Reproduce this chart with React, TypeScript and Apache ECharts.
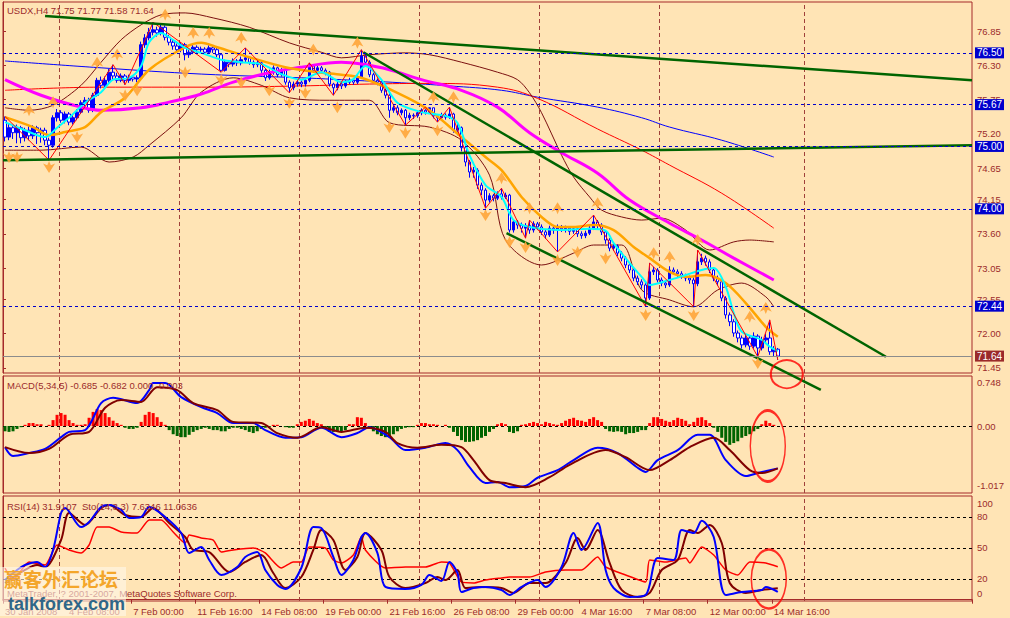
import React, { useEffect, useRef } from 'react';
import * as echarts from 'echarts';

const SLOTS = 242;
const xTickLabels = ['30 Jan 2008', '4 Feb 08:00', '7 Feb 00:00', '11 Feb 16:00', '14 Feb 08:00', '19 Feb 00:00', '21 Feb 16:00', '26 Feb 08:00', '29 Feb 00:00', '4 Mar 16:00', '7 Mar 08:00', '12 Mar 00:00', '14 Mar 16:00'];
const priceTicks = [76.85, 76.30, 75.75, 75.20, 74.65, 74.15, 73.60, 73.05, 72.55, 72.00, 71.45];
const macdTicks = [0.748, 0, -1.017];
const rsiLabelPos = [93.5, 80, 50, 20, 6];
const rsiLabelText = ['100', '80', '50', '20', '0'];
const priceLevels = [76.50, 75.67, 75.00, 74.00, 72.44];
const bidPrice = 71.64;
const weekSeparators = [14, 44, 74, 104, 134, 164, 200];

// [open, close, low, high]
const candles = [
[75.42,75.15,75.08,75.48],[75.15,75.30,75.10,75.36],[75.30,75.22,75.12,75.34],[75.22,75.30,75.05,75.35],[75.30,75.14,75.05,75.33],
[75.14,75.26,75.08,75.30],[75.26,75.17,75.10,75.32],[75.17,75.30,75.12,75.34],[75.30,75.22,75.04,75.33],[75.22,75.26,75.06,75.30],
[75.26,75.10,75.02,75.30],[75.10,75.02,74.78,75.14],[75.02,75.46,74.98,75.50],[75.46,75.54,75.40,75.60],[75.54,75.42,75.38,75.58],
[75.42,75.52,75.37,75.56],[75.52,75.39,75.34,75.55],[75.39,75.46,75.35,75.50],[75.46,75.55,75.42,75.60],[75.55,75.70,75.52,75.74],
[75.70,75.74,75.64,75.79],[75.74,75.58,75.54,75.78],[75.58,75.82,75.55,75.86],[75.82,76.06,75.80,76.10],[76.06,75.98,75.93,76.12],
[75.98,76.06,75.95,76.12],[76.06,76.19,76.02,76.24],[76.19,76.13,76.08,76.31],[76.13,76.06,76.02,76.18],[76.06,76.13,76.03,76.17],
[76.13,76.06,75.99,76.16],[76.06,76.11,76.02,76.15],[76.11,76.08,76.04,76.14],[76.08,76.10,76.03,76.14],[76.10,76.63,76.07,76.68],
[76.63,76.74,76.58,76.80],[76.74,76.83,76.70,76.90],[76.83,76.87,76.78,76.99],[76.87,76.82,76.76,76.92],[76.82,76.91,76.78,76.97],
[76.91,76.75,76.70,76.94],[76.75,76.67,76.62,76.79],[76.67,76.61,76.55,76.71],[76.61,76.55,76.50,76.65],[76.55,76.63,76.51,76.67],
[76.63,76.47,76.38,76.66],[76.47,76.51,76.42,76.56],[76.51,76.59,76.48,76.63],[76.59,76.55,76.50,76.62],[76.55,76.56,76.51,76.60],
[76.56,76.51,76.47,76.59],[76.51,76.58,76.48,76.62],[76.58,76.55,76.50,76.61],[76.55,76.47,76.43,76.58],[76.47,76.22,76.19,76.49],
[76.22,76.35,76.20,76.39],[76.35,76.32,76.27,76.38],[76.32,76.37,76.28,76.41],[76.37,76.34,76.29,76.40],[76.34,76.39,76.30,76.44],
[76.39,76.42,76.35,76.58],[76.42,76.35,76.31,76.45],[76.35,76.31,76.26,76.38],[76.31,76.34,76.27,76.38],[76.34,76.22,76.18,76.37],
[76.22,76.10,76.05,76.25],[76.10,76.19,76.07,76.23],[76.19,76.26,76.15,76.30],[76.26,76.15,76.11,76.28],[76.15,76.22,76.12,76.26],
[76.22,76.03,75.99,76.25],[76.03,75.94,75.86,76.06],[75.94,76.00,75.90,76.04],[76.00,76.03,75.96,76.07],[76.03,76.00,75.95,76.06],
[76.00,76.06,75.96,76.10],[76.06,76.29,76.03,76.34],[76.29,76.22,76.18,76.31],[76.22,76.26,76.19,76.29],[76.26,76.22,76.18,76.29],
[76.22,76.19,76.14,76.25],[76.19,76.00,75.96,76.21],[76.00,75.94,75.82,76.02],[75.94,76.00,75.90,76.04],[76.00,75.97,75.92,76.03],
[75.97,76.03,75.94,76.06],[76.03,76.06,76.00,76.10],[76.06,76.03,75.99,76.09],[76.03,76.10,76.00,76.14],[76.10,76.45,76.08,76.55],
[76.45,76.35,76.30,76.50],[76.35,76.15,76.11,76.38],[76.15,76.06,76.02,76.18],[76.06,76.03,75.98,76.09],[76.03,75.90,75.86,76.06],
[75.90,75.82,75.77,75.93],[75.82,75.58,75.46,75.85],[75.58,75.62,75.54,75.66],[75.62,75.54,75.50,75.66],[75.54,75.58,75.50,75.61],
[75.58,75.46,75.34,75.60],[75.46,75.50,75.42,75.54],[75.50,75.49,75.44,75.53],[75.49,75.54,75.46,75.58],[75.54,75.58,75.50,75.61],
[75.58,75.55,75.51,75.63],[75.55,75.62,75.52,75.62],[75.62,75.49,75.45,75.62],[75.49,75.46,75.39,75.52],[75.46,75.50,75.43,75.54],
[75.50,75.47,75.43,75.53],[75.47,75.52,75.44,75.63],[75.52,75.26,75.22,75.54],[75.26,75.30,75.18,75.36],[75.30,74.98,74.92,75.32],
[74.98,74.75,74.68,75.01],[74.75,74.59,74.50,74.78],[74.59,74.62,74.50,74.67],[74.62,74.38,74.32,74.65],[74.38,74.30,74.22,74.42],
[74.30,74.14,74.01,74.33],[74.14,74.21,74.10,74.25],[74.21,74.17,74.12,74.24],[74.17,74.24,74.14,74.28],[74.24,74.19,74.15,74.33],
[74.19,74.22,74.16,74.26],[74.22,73.66,73.62,74.24],[73.66,73.79,73.62,73.83],[73.79,73.74,73.68,73.82],[73.74,73.69,73.62,73.78],
[73.69,73.73,73.53,73.77],[73.73,73.66,73.60,73.82],[73.66,73.76,73.62,73.80],[73.76,73.71,73.66,73.79],[73.71,73.63,73.58,73.75],
[73.63,73.58,73.52,73.67],[73.58,73.69,73.55,73.73],[73.69,73.66,73.60,73.72],[73.66,73.71,73.31,73.75],[73.71,73.68,73.63,73.74],
[73.68,73.69,73.62,73.73],[73.69,73.64,73.58,73.72],[73.64,73.68,73.60,73.72],[73.68,73.60,73.55,73.71],[73.60,73.57,73.52,73.64],
[73.57,73.61,73.53,73.65],[73.61,73.69,73.58,73.73],[73.69,73.79,73.66,73.90],[73.79,73.74,73.68,73.82],[73.74,73.63,73.58,73.77],
[73.63,73.50,73.44,73.66],[73.50,73.37,73.32,73.53],[73.37,73.40,73.33,73.45],[73.40,73.29,73.24,73.43],[73.29,73.21,73.16,73.32],
[73.21,73.10,73.05,73.24],[73.10,73.02,72.97,73.13],[73.02,72.89,72.84,73.05],[72.89,72.83,72.78,72.93],[72.83,72.78,72.72,72.87],
[72.78,72.57,72.43,72.81],[72.57,72.99,72.54,73.13],[72.99,73.02,72.94,73.07],[73.02,72.86,72.82,73.05],[72.86,72.81,72.76,72.90],
[72.81,72.78,72.73,72.85],[72.78,73.02,72.75,73.08],[73.02,72.99,72.94,73.06],[72.99,72.96,72.91,73.03],[72.96,72.92,72.88,73.00],
[72.92,72.89,72.84,72.96],[72.89,72.86,72.80,72.93],[72.86,72.80,72.43,72.90],[72.80,73.15,72.76,73.34],[73.15,73.21,73.10,73.28],
[73.21,73.15,73.09,73.25],[73.15,73.02,72.97,73.19],[73.02,72.89,72.84,73.06],[72.89,72.83,72.77,72.93],[72.83,72.57,72.52,72.86],
[72.57,72.30,72.24,72.60],[72.30,72.19,72.12,72.34],[72.19,72.01,71.95,72.23],[72.01,71.93,71.86,72.05],[71.93,71.82,71.76,71.97],
[71.82,71.93,71.78,71.98],[71.93,71.80,71.74,71.97],[71.80,71.96,71.76,72.02],[71.96,71.77,71.63,71.99],[71.77,71.90,71.73,71.95],
[71.90,71.93,71.84,72.00],[71.93,71.71,71.66,72.22],[71.71,71.75,71.64,71.80],[71.75,71.64,71.58,71.77]
];

// overlays: [bar index, price]
const cyanMA = [[0,75.39],[5,75.26],[10,75.15],[13,75.30],[16,75.46],[20,75.70],[24,75.87],[27,76.07],[31,76.10],[34,76.29],[36,76.67],[39,76.82],[41,76.75],[45,76.58],[49,76.50],[54,76.39],[59,76.35],[64,76.32],[69,76.16],[74,76.07],[79,76.19],[84,76.03],[87,76.08],[90,76.29],[94,76.07],[98,75.70],[104,75.55],[110,75.49],[113,75.38],[116,74.86],[120,74.38],[124,74.19],[127,73.82],[131,73.71],[138,73.66],[146,73.68],[150,73.65],[152,73.45],[156,73.13],[159,72.91],[161,72.78],[166,72.86],[170,72.94],[174,73.02],[177,73.05],[180,72.75],[182,72.33],[184,72.03],[189,71.90],[191,71.79],[193,71.72]];
const orangeMA = [[0,75.47],[7,75.31],[11,75.18],[15,75.23],[20,75.31],[24,75.55],[30,75.78],[36,76.23],[45,76.59],[49,76.66],[53,76.59],[61,76.43],[70,76.27],[78,76.19],[84,76.15],[89,76.10],[98,75.86],[106,75.58],[114,75.15],[120,74.83],[124,74.62],[129,74.19],[134,73.87],[138,73.71],[142,73.71],[147,73.74],[152,73.66],[157,73.39],[161,73.21],[166,72.99],[170,72.91],[175,72.94],[180,72.81],[185,72.49],[190,72.11],[193,71.95]];
const magentaMA = [[0,76.07],[9,75.82],[19,75.63],[24,75.58],[34,75.62],[41,75.71],[49,75.84],[57,76.03],[66,76.18],[74,76.27],[84,76.35],[89,76.32],[96,76.23],[104,76.07],[114,75.90],[123,75.63],[131,75.22],[139,74.90],[148,74.57],[156,74.14],[166,73.77],[174,73.50],[182,73.21],[192,72.86]];
const blueMA = [[0,76.37],[24,76.26],[49,76.16],[74,76.10],[84,76.07],[99,76.02],[111,75.97],[124,75.90],[133,75.79],[148,75.63],[159,75.46],[166,75.31],[179,75.10],[192,74.83]];
const redMA = [[0,75.90],[24,75.95],[49,75.95],[74,75.97],[91,76.00],[106,76.01],[123,75.95],[133,75.77],[148,75.28],[159,74.94],[166,74.70],[179,74.25],[192,73.69]];
const upperBand = [[0,75.62],[6,75.58],[12,75.66],[19,75.98],[24,76.35],[29,76.71],[34,76.95],[39,77.11],[45,77.14],[52,77.06],[61,76.91],[71,76.66],[79,76.51],[84,76.42],[91,76.47],[100,76.50],[106,76.47],[114,76.35],[123,76.19],[128,76.07],[131,75.86],[134,75.54],[139,74.86],[142,74.51],[146,74.19],[149,73.98],[154,73.87],[159,73.82],[164,73.85],[170,73.66],[176,73.34],[182,73.47],[186,73.50],[192,73.47]];
const lowerBand = [[0,74.94],[9,74.94],[19,74.99],[26,74.75],[32,74.83],[36,75.02],[44,75.46],[49,75.87],[57,76.10],[64,75.98],[71,75.78],[81,75.74],[91,75.74],[96,75.38],[106,75.31],[114,75.10],[121,74.54],[125,73.50],[134,73.10],[142,73.29],[147,73.42],[154,73.42],[159,72.70],[166,72.54],[172,72.43],[178,72.70],[184,72.81],[190,72.59],[192,72.43]];
const zigzag = [[0,75.48],[11,74.78],[27,76.31],[30,75.99],[37,76.99],[54,76.19],[60,76.58],[71,75.86],[76,76.34],[82,75.82],[89,76.55],[100,75.34],[105,75.63],[108,75.39],[111,75.63],[120,74.01],[124,74.33],[130,73.53],[131,73.82],[138,73.31],[147,73.90],[160,72.43],[161,73.13],[172,72.43],[173,73.34],[188,71.63],[191,72.22],[193,71.58]];
const fractalUp = [[6,75.58],[12,75.71],[23,76.34],[28,76.47],[40,77.11],[47,76.82],[51,76.82],[59,76.74],[77,76.55],[88,76.66],[107,75.79],[112,75.79],[124,74.49],[131,74.01],[138,74.01],[148,74.09],[162,73.29],[166,73.23],[173,73.50],[186,72.27],[190,72.41]];
const fractalDown = [[1,74.83],[3,74.83],[11,74.67],[18,75.15],[30,75.82],[33,75.90],[45,76.19],[54,76.07],[59,76.03],[66,75.90],[71,75.70],[75,75.86],[83,75.63],[96,75.31],[100,75.22],[108,75.26],[120,73.90],[126,73.47],[130,73.39],[138,73.18],[143,73.31],[150,73.21],[160,72.30],[172,72.30],[188,71.53]];
// trend lines: [slot position, price]
const trendLines = [
  [[10.5, 77.09], [242, 76.06]],
  [[0, 74.78], [242, 75.02]],
  [[90, 76.51], [220.5, 71.63]],
  [[125.75, 73.61], [204.25, 71.10]],
];

const macdHist = [-0.09,-0.10,-0.09,-0.05,-0.02,0.02,0.05,0.05,0.03,0.03,0,0.02,0.10,0.19,0.22,0.19,0.10,0.05,0.02,0.02,
0.03,0.14,0.24,0.29,0.27,0.22,0.15,0.09,0.05,0.02,-0.03,-0.05,-0.05,-0.03,0.07,0.19,0.24,0.22,0.15,0.07,
0.02,-0.07,-0.14,-0.17,-0.19,-0.19,-0.15,-0.10,-0.07,-0.05,-0.03,-0.05,-0.07,-0.07,-0.09,-0.09,-0.05,-0.03,-0.03,-0.05,
-0.07,-0.10,-0.12,-0.09,-0.05,-0.03,-0.02,0.02,0.02,0,-0.02,-0.03,-0.03,0.03,0.07,0.09,0.12,0.09,0.05,0.03,
-0.05,-0.10,-0.10,-0.09,-0.09,-0.07,0.03,0.03,0.15,0.14,0.05,-0.03,-0.09,-0.14,-0.17,-0.19,-0.17,-0.14,-0.09,-0.05,
-0.03,-0.02,-0.02,0.02,0.05,0.05,0.03,0.03,0.02,0,0.02,-0.03,-0.10,-0.17,-0.24,-0.27,-0.27,-0.26,-0.24,-0.20,
-0.17,-0.10,-0.05,0.03,0.05,0.03,-0.10,-0.12,-0.09,0.02,0.03,0.05,0.07,0.05,0.03,0.07,0.05,0.03,0.02,0.05,
0.09,0.12,0.14,0.10,0.09,0.07,0.12,0.15,0.10,0.07,-0.05,-0.09,-0.10,-0.09,-0.10,-0.14,-0.12,-0.12,-0.10,-0.07,
-0.07,0.05,0.15,0.15,0.12,0.09,0.07,0.10,0.14,0.12,0.09,0.03,0.07,0.14,0.15,0.10,0.05,-0.03,-0.10,-0.20,
-0.27,-0.32,-0.29,-0.26,-0.20,-0.17,-0.14,-0.09,-0.05,0.03,0.09,0.05,0.02,0];
const macdLine = [[0,-0.36],[2,-0.51],[6,-0.46],[10,-0.39],[14,-0.19],[16,-0.10],[20,-0.07],[24,0.39],[27,0.48],[33,0.39],[36,0.61],[37,0.73],[40,0.73],[44,0.49],[49,0.32],[53,0.22],[57,0.05],[62,0.05],[65,-0.07],[70,-0.20],[74,-0.19],[79,-0.03],[84,-0.19],[88,-0.12],[91,-0.02],[96,-0.19],[100,-0.41],[105,-0.37],[110,-0.29],[113,-0.41],[116,-0.70],[120,-0.97],[123,-0.95],[126,-1.04],[130,-1.02],[133,-0.88],[138,-0.75],[142,-0.58],[148,-0.37],[153,-0.46],[158,-0.71],[160,-0.78],[163,-0.58],[168,-0.41],[173,-0.15],[176,-0.15],[180,-0.58],[185,-0.85],[188,-0.80],[193,-0.72]];
const macdSignal = [[0,-0.36],[6,-0.46],[11,-0.39],[16,-0.15],[21,-0.10],[25,0.31],[29,0.44],[34,0.41],[38,0.66],[43,0.61],[47,0.39],[53,0.27],[57,0.07],[64,0.05],[68,-0.12],[73,-0.20],[79,-0.02],[84,-0.10],[90,-0.03],[95,-0.10],[98,-0.29],[103,-0.37],[109,-0.32],[114,-0.36],[117,-0.58],[121,-0.92],[125,-0.97],[130,-1.04],[136,-0.87],[141,-0.66],[150,-0.41],[155,-0.53],[161,-0.75],[166,-0.58],[171,-0.36],[177,-0.20],[181,-0.41],[186,-0.75],[189,-0.80],[193,-0.72]];

const stochMain = [[0,19.0],[3,28.7],[5,33.5],[8,36.5],[10,31.6],[12,48.1],[14,83.9],[15,88.7],[19,70.3],[21,75.2],[24,89.7],[26,91.6],[29,86.8],[31,79.0],[34,80.0],[36,89.7],[40,80.0],[44,64.5],[46,45.2],[49,51.0],[51,38.4],[54,23.9],[58,31.6],[60,41.3],[63,46.1],[65,28.7],[68,14.2],[70,10.3],[74,30.6],[77,70.3],[79,69.4],[82,41.3],[84,23.9],[87,38.4],[89,60.6],[90,64.5],[93,45.2],[95,12.3],[100,10.3],[104,14.2],[106,23.9],[109,18.1],[111,36.5],[113,25.8],[114,7.4],[117,11.3],[120,12.3],[124,9.4],[126,4.5],[129,12.3],[133,19.0],[135,12.3],[139,31.6],[142,64.5],[144,48.1],[148,74.2],[150,28.7],[152,11.3],[156,2.6],[160,4.5],[163,40.3],[167,38.4],[169,67.4],[172,64.5],[174,76.4],[177,60.6],[180,4.5],[184,7.4],[189,9.4],[190,12.3],[193,7.6]];
const stochSignal = [[0,16.1],[5,28.7],[8,33.5],[10,31.6],[14,57.7],[16,83.9],[20,72.3],[24,88.7],[26,91.6],[30,81.9],[34,80.0],[37,88.7],[41,74.2],[45,60.6],[47,48.1],[51,46.1],[56,26.8],[60,36.5],[64,43.2],[67,25.8],[70,11.3],[74,21.9],[77,48.1],[79,67.4],[82,57.7],[85,28.7],[88,41.3],[90,64.5],[94,48.1],[96,21.9],[100,11.3],[105,16.1],[108,21.9],[110,19.0],[113,28.7],[115,11.3],[119,12.3],[124,11.3],[127,6.5],[131,16.1],[135,16.1],[140,35.5],[143,59.7],[145,48.1],[148,67.4],[151,35.5],[154,9.4],[158,2.6],[161,6.5],[164,28.7],[168,38.4],[171,67.4],[173,64.5],[176,72.3],[179,54.8],[181,16.1],[185,6.5],[189,9.4],[193,11.1]];
const rsiLine = [[0,30.6],[2,19.0],[6,36.5],[10,33.5],[13,52.9],[16,48.1],[19,45.2],[21,52.9],[23,70.3],[26,70.3],[29,65.5],[33,64.5],[36,77.1],[39,77.1],[42,65.5],[45,54.8],[46,62.6],[49,59.7],[52,57.7],[54,46.1],[57,48.1],[62,50.0],[65,45.2],[69,30.6],[72,36.5],[74,36.5],[76,51.0],[80,50.0],[82,38.4],[84,35.5],[87,43.2],[89,60.6],[90,48.1],[95,30.6],[100,31.6],[105,31.6],[109,36.5],[111,35.5],[114,17.1],[117,16.1],[120,19.0],[124,21.0],[126,21.9],[131,21.9],[135,26.8],[140,28.7],[144,28.7],[148,41.3],[150,31.6],[155,23.9],[160,17.1],[161,38.4],[165,36.5],[170,40.3],[171,35.5],[174,51.0],[177,43.2],[180,28.7],[183,23.9],[186,36.5],[190,35.5],[193,31.9]];
const rsiLevels = [80, 50, 20];

// red annotation ellipses: [slot position, value]
const circleMain = [195.75, 71.35];
const circleMacd = [191, -0.34];
const circleRsi = [191.25, 20];

const FONT = '"Liberation Sans", Arial, sans-serif';
const TXT = '#9c2b2b';
const FRAME = '#a52a2a';
const GRIDV = '#a0403a';

const UP_ARROW = 'path://M5 0 L10 8 L6.5 6.5 L5 10 L3.5 6.5 L0 8 Z';
const DOWN_ARROW = 'path://M5 10 L10 2 L6.5 3.5 L5 0 L3.5 3.5 L0 2 Z';

function buildOption() {
  const cats = Array.from({ length: SLOTS }, (_, i) => (i % 16 === 0 && i / 16 < xTickLabels.length ? xTickLabels[i / 16] : ''));
  const labelInterval = (i: number) => i % 16 === 0 && i / 16 < xTickLabels.length;
  const hiddenCat = (g: number) => ({ type: 'category', gridIndex: g, data: cats, show: false });
  const hiddenVal = (g: number) => ({ type: 'value', gridIndex: g, min: 0, max: SLOTS, show: false });
  const yCommon = {
    position: 'right',
    axisLine: { show: true, lineStyle: { color: FRAME, width: 1 } },
    splitLine: { show: false },
  };
  const labelStyle = { color: TXT, fontSize: 9.5, fontFamily: FONT, margin: 5 };
  const line = (data: number[][], color: string, width: number, z: number, x = 0, y = 0, smooth: number | boolean = 0.3) => ({
    type: 'line', xAxisIndex: x, yAxisIndex: y, data, symbol: 'none', showSymbol: false, silent: true, smooth,
    lineStyle: { color, width }, z,
  });
  const vLines = weekSeparators.map((v) => ({ xAxis: v }));
  const vLineStyle = { color: GRIDV, type: [4, 3], width: 1 };
  const circleSeries = (x: number, y: number, pos: number[], size: number[], extraLines: any[]) => ({
    type: 'scatter', xAxisIndex: x, yAxisIndex: y, clip: false, silent: true, z: 20,
    data: [{ value: pos, symbolSize: size }],
    symbol: 'circle',
    itemStyle: { color: 'rgba(0,0,0,0)', borderColor: '#ff0000', borderWidth: 2 },
    markLine: {
      silent: true, symbol: ['none', 'none'], label: { show: false },
      lineStyle: vLineStyle, z: 1,
      data: [...vLines, ...extraLines],
    },
  });
  const levelLabel = (bg: string) => ({
    show: true, position: 'end', distance: 3, formatter: (p: any) => Number(p.value).toFixed(2),
    color: '#ffffff', backgroundColor: bg, padding: [1, 2, 0, 2], fontSize: 10, fontFamily: FONT,
  });

  return {
    animation: false,
    backgroundColor: '#ffe4b5',
    textStyle: { fontFamily: FONT },
    grid: [
      { left: 3, top: 2, width: 969, height: 371, show: true, borderColor: FRAME, borderWidth: 1 },
      { left: 3, top: 376, width: 969, height: 117, show: true, borderColor: FRAME, borderWidth: 1 },
      { left: 3, top: 496, width: 969, height: 105, show: true, borderColor: FRAME, borderWidth: 1 },
    ],
    xAxis: [
      hiddenCat(0), hiddenVal(0), hiddenCat(1), hiddenVal(1),
      {
        type: 'category', gridIndex: 2, data: cats,
        axisLine: { show: true, lineStyle: { color: FRAME } },
        axisTick: { show: true, interval: labelInterval, length: 4, lineStyle: { color: FRAME } },
        axisLabel: { ...labelStyle, interval: labelInterval, align: 'left' },
        splitLine: { show: false },
      },
      hiddenVal(2),
    ],
    yAxis: [
      {
        type: 'value', gridIndex: 0, min: 71.369, max: 77.315, ...yCommon,
        axisTick: { show: true, length: 3, customValues: priceTicks, lineStyle: { color: FRAME } },
        axisLabel: { ...labelStyle, customValues: priceTicks, formatter: (v: number) => v.toFixed(2) },
      },
      {
        type: 'value', gridIndex: 1, min: -1.139, max: 0.85, ...yCommon,
        axisTick: { show: true, length: 3, customValues: [0], lineStyle: { color: FRAME } },
        axisLabel: { ...labelStyle, customValues: macdTicks, formatter: (v: number) => (v === 0 ? '0.00' : v.toFixed(3)) },
      },
      {
        type: 'value', gridIndex: 2, min: -1.3, max: 100.3, ...yCommon,
        axisTick: { show: true, length: 3, customValues: rsiLevels, lineStyle: { color: FRAME } },
        axisLabel: {
          ...labelStyle, customValues: rsiLabelPos,
          formatter: (v: number) => rsiLabelText[rsiLabelPos.indexOf(v)] ?? String(v),
        },
      },
    ],
    series: [
      // main pane
      line(blueMA, '#0000ff', 1, 2, 0, 0, 0.4),
      line(redMA, '#ff0000', 1, 2, 0, 0, 0.4),
      line(upperBand, '#7b1010', 1, 2),
      line(lowerBand, '#7b1010', 1, 2),
      {
        type: 'candlestick', xAxisIndex: 0, yAxisIndex: 0, data: candles, barWidth: 3, z: 3, silent: true,
        itemStyle: { color: '#0000ff', color0: '#ffffff', borderColor: '#0000ff', borderColor0: '#0000ff', borderWidth: 1 },
        markLine: {
          silent: true, symbol: ['none', 'none'], z: 8,
          data: [
            ...priceLevels.map((v) => ({ yAxis: v, lineStyle: { color: '#0000cd', type: [3, 3], width: 1 }, label: levelLabel('#0000cd') })),
            { yAxis: bidPrice, lineStyle: { color: '#8c8c8c', type: 'solid', width: 1 }, label: levelLabel('#9b2a2a') },
          ],
        },
      },
      line(magentaMA, '#ff00ff', 3, 4, 0, 0, 0.4),
      line(orangeMA, '#ffa500', 2.5, 4),
      line(cyanMA, '#00ffff', 2, 4),
      line(zigzag, '#ff0000', 1, 4, 0, 0, false),
      ...trendLines.map((t) => ({
        type: 'line', xAxisIndex: 1, yAxisIndex: 0, data: t, symbol: 'none', silent: true, clip: false,
        lineStyle: { color: '#006400', width: 2.5 }, z: 5,
      })),
      {
        type: 'scatter', xAxisIndex: 0, yAxisIndex: 0, data: fractalUp, symbol: UP_ARROW, symbolSize: [12, 12], silent: true,
        itemStyle: { color: '#ffa53a', opacity: 0.9 }, z: 6,
      },
      {
        type: 'scatter', xAxisIndex: 0, yAxisIndex: 0, data: fractalDown, symbol: DOWN_ARROW, symbolSize: [12, 12], silent: true,
        itemStyle: { color: '#ffa53a', opacity: 0.9 }, z: 6,
      },
      circleSeries(1, 0, circleMain, [32, 28], []),
      // MACD pane
      {
        type: 'bar', xAxisIndex: 2, yAxisIndex: 1, barWidth: 3, silent: true, z: 2,
        data: macdHist.map((v) => ({ value: v, itemStyle: { color: v >= 0 ? '#ff0000' : '#006400' } })),
      },
      line(macdLine, '#0000ff', 2, 4, 2, 1),
      line(macdSignal, '#800000', 2, 4, 2, 1),
      circleSeries(3, 1, circleMacd, [35, 71], [{ yAxis: 0, lineStyle: { color: '#000000', type: [3, 3], width: 1 } }]),
      // RSI / Stochastic pane
      line(rsiLine, '#ff0000', 1.5, 3, 4, 2, 0.2),
      line(stochSignal, '#800000', 2, 4, 4, 2),
      line(stochMain, '#0000ff', 2, 4, 4, 2),
      circleSeries(5, 2, circleRsi, [35, 59], rsiLevels.map((v) => ({ yAxis: v, lineStyle: { color: '#000000', type: [3, 3], width: 1 } }))),
    ],
    graphic: [
      { type: 'text', x: 7, y: 5, z: 50, style: { text: 'USDX,H4 71.75 71.77 71.58 71.64', fill: TXT, fontSize: 9.5, fontFamily: FONT } },
      { type: 'text', x: 7, y: 380, z: 50, style: { text: 'MACD(5,34,5) -0.685 -0.682 0.000 -0.003', fill: TXT, fontSize: 9.5, fontFamily: FONT } },
      { type: 'text', x: 7, y: 501, z: 50, style: { text: 'RSI(14) 31.9107  Sto(14,3,3) 7.6346 11.0636', fill: TXT, fontSize: 9.5, fontFamily: FONT } },
      { type: 'text', x: 7, y: 588, z: 50, style: { text: 'MetaTrader, ? 2001-2007, MetaQuotes Software Corp.', fill: TXT, fontSize: 9.5, fontFamily: FONT } },
      { type: 'rect', z: 51, shape: { x: 0, y: 567, width: 126, height: 49 }, style: { fill: 'rgba(255,248,235,0.6)' } },
      { type: 'text', x: 4, y: 569, z: 52, style: { text: '赢客外汇论坛', fill: '#f4a62a', fontSize: 19, fontWeight: 'bold', fontFamily: '"Noto Sans CJK SC", sans-serif' } },
      { type: 'text', x: 8, y: 595, z: 52, style: { text: 'talkforex.com', fill: '#2f6688', fontSize: 18, fontWeight: 'bold', fontFamily: FONT } },
    ],
  };
}

export default function App() {
  const ref = useRef<HTMLDivElement>(null);
  useEffect(() => {
    document.body.style.margin = '0';
    const chart = echarts.init(ref.current as HTMLDivElement, null, { renderer: 'svg' });
    chart.setOption(buildOption() as any);
    return () => chart.dispose();
  }, []);
  return <div ref={ref} style={{ width: 1010, height: 618 }} />;
}
